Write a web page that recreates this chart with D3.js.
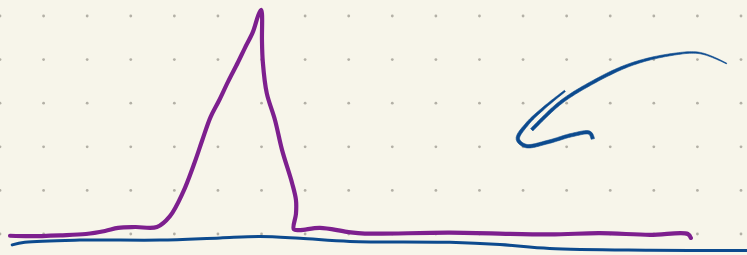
<!DOCTYPE html>
<meta charset="utf-8">
<script src="https://d3js.org/d3.v7.min.js"></script>
<style>
  body { margin: 0; background: #f7f5ea; }
  svg { display: block; }
</style>
<body>
<svg width="747" height="255"></svg>
<script>
  // values in grid units (one dot spacing = 1)
  var peakLine = [
    [0.23, -0.04], [0.69, -0.05], [1.38, -0.03], [1.97, 0.0], [2.41, 0.07],
    [2.71, 0.14], [3.10, 0.16], [3.60, 0.16], [3.90, 0.41], [4.20, 0.96],
    [4.45, 1.60], [4.64, 2.15], [4.83, 2.68], [5.02, 3.05], [5.23, 3.49],
    [5.46, 3.94], [5.62, 4.27], [5.80, 4.63], [5.92, 5.00], [5.99, 5.14],
    [6.01, 5.05], [6.01, 4.45], [6.03, 3.94], [6.12, 3.23], [6.31, 2.61],
    [6.47, 1.93], [6.70, 1.17], [6.79, 0.78], [6.79, 0.46], [6.74, 0.11],
    [6.88, 0.09], [7.34, 0.14], [7.96, 0.05], [8.37, 0.01], [10.32, 0.03],
    [12.61, -0.01], [13.76, 0.02], [14.91, -0.02], [15.78, 0.0], [15.85, -0.09]
  ];

  var baseLine = [
    [0.28, -0.25], [0.57, -0.19], [1.83, -0.14], [3.67, -0.14], [5.05, -0.09],
    [5.96, -0.06], [6.88, -0.10], [8.03, -0.17], [10.32, -0.19], [11.47, -0.24],
    [12.61, -0.33], [14.91, -0.37], [17.13, -0.38]
  ];

  var arrowShaft = [
    [16.67, 3.91], [16.06, 4.15], [15.37, 4.11], [14.45, 3.88],
    [13.53, 3.44], [12.84, 3.00], [12.20, 2.39]
  ];

  var arrowHook = [
    [12.96, 3.28], [12.50, 2.91], [12.09, 2.52], [11.88, 2.18], [12.06, 2.02],
    [12.57, 2.11], [13.12, 2.27], [13.53, 2.32], [13.60, 2.18]
  ];

  var gridCols = d3.range(0, 18), gridRows = d3.range(0, 6);

  var purple = '#7d1f8e', blue = '#0c4a8e';

  var svg = d3.select('svg');
  var x = d3.scaleLinear().domain([0, 17]).range([0, 741]);
  var y = d3.scaleLinear().domain([0, 5]).range([234, 16]);

  svg.append('rect').attr('width', 747).attr('height', 255).attr('fill', '#f7f5ea');

  /* ----------- dot grid ----------- */
  var dots = [];
  gridRows.forEach(function(r){ gridCols.forEach(function(c){ dots.push([c, r]); }); });
  svg.append('g').selectAll('circle').data(dots).enter().append('circle')
    .attr('cx', function(d){ return x(d[0]); })
    .attr('cy', function(d){ return y(d[1]); })
    .attr('r', 1.4)
    .attr('fill', '#b3b0a6');

  var line = d3.line()
    .x(function(d){ return x(d[0]); })
    .y(function(d){ return y(d[1]); })
    .curve(d3.curveCatmullRom.alpha(0.5));

  svg.append('path').datum(baseLine)
    .attr('d', line).attr('fill', 'none').attr('stroke', blue)
    .attr('stroke-width', 3).attr('stroke-linecap', 'round');

  svg.append('path').datum(peakLine)
    .attr('d', line).attr('fill', 'none').attr('stroke', purple)
    .attr('stroke-width', 4.2).attr('stroke-linecap', 'round').attr('stroke-linejoin', 'round');

  // brush-like tapered stroke
  function taper(data, w0, w1, ramp, color){
    var tmp = svg.append('path').datum(data).attr('d', line).attr('fill', 'none');
    var node = tmp.node(), len = node.getTotalLength(), n = 100;
    var left = [], right = [];
    for (var i = 0; i <= n; i++) {
      var t = i / n, p = node.getPointAtLength(t * len);
      var a = node.getPointAtLength(Math.max(0, t * len - 1));
      var b = node.getPointAtLength(Math.min(len, t * len + 1));
      var dx = b.x - a.x, dy = b.y - a.y, m = Math.sqrt(dx*dx + dy*dy) || 1;
      var w = (w0 + (w1 - w0) * Math.min(1, t / ramp)) / 2;
      left.push([p.x - dy / m * w, p.y + dx / m * w]);
      right.push([p.x + dy / m * w, p.y - dx / m * w]);
    }
    tmp.remove();
    svg.append('path')
      .attr('d', 'M' + left.concat(right.reverse()).join('L') + 'Z')
      .attr('fill', color).attr('stroke', color).attr('stroke-width', 0.6)
      .attr('stroke-linejoin', 'round');
  }

  taper(arrowShaft, 0.8, 3.2, 0.55, blue);
  taper(arrowHook, 1.6, 3.4, 0.4, blue);
</script>
</body>
